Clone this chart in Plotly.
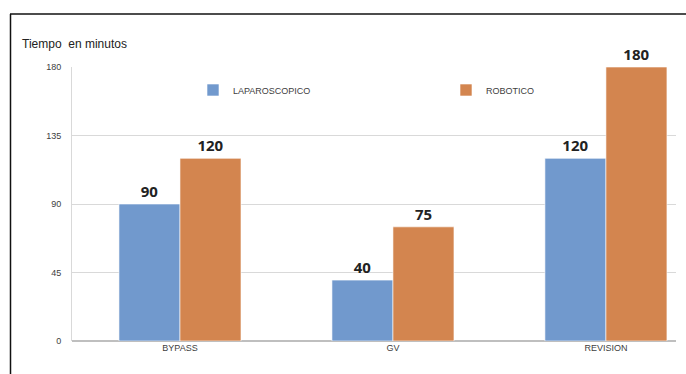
import plotly.graph_objects as go

categories = ["BYPASS", "GV", "REVISION"]
laparoscopico = [90, 40, 120]
robotico = [120, 75, 180]
series_names = ["LAPAROSCOPICO", "ROBOTICO"]
y_ticks = [0, 45, 90, 135, 180]

BLUE = "#7199CD"
ORANGE = "#D3854F"

fig = go.Figure()
for name, vals, col, lg in [(series_names[0], laparoscopico, BLUE, "legend"),
                            (series_names[1], robotico, ORANGE, "legend2")]:
    fig.add_trace(go.Bar(
        x=list(range(len(categories))), y=vals, name=name, legend=lg, showlegend=True,
        marker=dict(color=col, line=dict(color="white", width=0.6)),
        text=[str(v) for v in vals], textposition="outside",
        textfont=dict(family="Open Sans, DejaVu Sans, sans-serif", size=15, color="#222222", weight="bold"),
        cliponaxis=False,
    ))

W, H = 686, 374
L, R, T, B = 72, 10, 67, 33
pw, ph = W - L - R, H - T - B

def px_x(p):
    return (p - L) / pw

def px_y(p):
    return (H - B - p) / ph

leg_common = dict(orientation="h", xanchor="left", yanchor="middle", y=px_y(90),
                  font=dict(size=9, color="#404040"), bgcolor="rgba(0,0,0,0)", itemclick=False,
                  borderwidth=0, visible=True)

fig.update_layout(
    width=W, height=H,
    margin=dict(l=L, r=R, t=T, b=B),
    paper_bgcolor="white", plot_bgcolor="white",
    showlegend=True,
    barmode="group", bargap=0.427, bargroupgap=0,
    font=dict(family="Liberation Sans, Arial, sans-serif", size=9, color="#404040"),
    title=dict(text="Tiempo  en minutos", x=22 / W, xref="container", xanchor="left",
               y=1 - 44 / H, yref="container", yanchor="middle",
               font=dict(family="Liberation Sans, Arial, sans-serif", size=12, color="#222222")),
    legend=dict(x=px_x(193), **leg_common),
    legend2=dict(x=px_x(446), **leg_common),
    xaxis=dict(range=[-0.507, 2.329], tickmode="array", tickvals=list(range(len(categories))),
               ticktext=categories, showgrid=False, zeroline=False, showline=False,
               tickfont=dict(size=9, color="#404040")),
    yaxis=dict(range=[0, 180], tickmode="array", tickvals=y_ticks, ticktext=[str(t) for t in y_ticks],
               showgrid=True, gridcolor="#D9D9D9", gridwidth=1, zeroline=True, zerolinecolor="#BFBFBF",
               zerolinewidth=1.5, showline=True, linecolor="#D9D9D9", linewidth=1,
               ticks="", ticklabelstandoff=8, tickfont=dict(size=9, color="#404040")),
    shapes=[
        dict(type="line", xref="paper", yref="paper", x0=px_x(10), x1=px_x(686), y0=px_y(14), y1=px_y(14),
             line=dict(color="#111111", width=1.5)),
        dict(type="line", xref="paper", yref="paper", x0=px_x(10.5), x1=px_x(10.5), y0=px_y(14), y1=px_y(374),
             line=dict(color="#111111", width=1.5)),
    ],
)

fig.write_html("out.html")
